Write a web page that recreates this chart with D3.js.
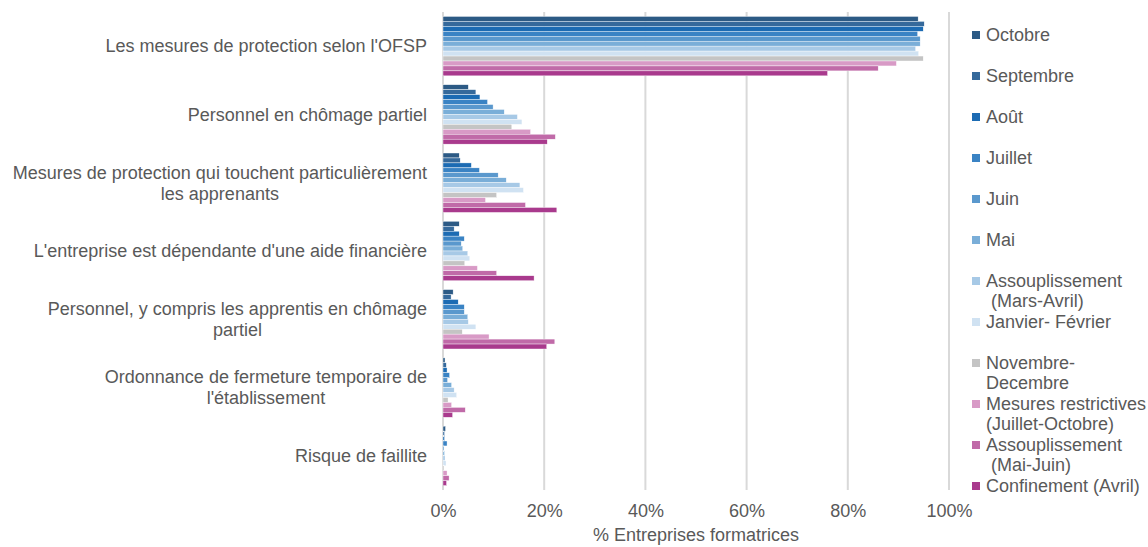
<!DOCTYPE html>
<html><head><meta charset="utf-8">
<script src="https://cdn.jsdelivr.net/npm/d3@7"></script>
<style>
body{margin:0;background:#fff;}
svg{font-family:"Liberation Sans",Arial,sans-serif;}
</style></head>
<body><svg id="chart" width="1148" height="547"></svg>
<script>
const categories = [
  "Les mesures de protection selon l'OFSP",
  "Personnel en chômage partiel",
  "Mesures de protection qui touchent particulièrement|les apprenants",
  "L'entreprise est dépendante d'une aide financière",
  "Personnel, y compris les apprentis en chômage|partiel",
  "Ordonnance de fermeture temporaire de|l'établissement",
  "Risque de faillite"
];
const seriesNames = ["Octobre","Septembre","Août","Juillet","Juin","Mai",
  "Assouplissement| (Mars-Avril)","Janvier- Février","Novembre-|Decembre",
  "Mesures restrictives|(Juillet-Octobre)","Assouplissement| (Mai-Juin)","Confinement (Avril)"];
const seriesColors = ["#2c5a85","#35699b","#1c6bb3","#3a83c4","#5a98cd","#7aaed8",
  "#a7c9e6","#d0e2f2","#c4c4c4","#d89ac6","#c06aa8","#a93a8d"];
// values per series (% of training companies), one per category
const octobre      = [93.9, 5.0, 3.2, 3.2, 2.0, 0.4, 0.5];
const septembre    = [95.1, 6.5, 3.4, 2.2, 1.6, 0.65, 0.3];
const aout         = [94.9, 7.3, 5.6, 3.2, 3.0, 0.8, 0.3];
const juillet      = [93.8, 8.8, 7.2, 4.2, 4.2, 1.3, 0.8];
const juin         = [94.3, 9.9, 10.9, 3.6, 4.2, 0.9, 0.2];
const mai          = [94.3, 12.1, 12.5, 3.9, 4.9, 1.7, 0.3];
const marsAvril    = [93.4, 14.7, 15.2, 4.9, 5.0, 2.2, 0.4];
const janvFev      = [94.0, 15.6, 15.9, 5.3, 6.5, 2.7, 0.6];
const novDec       = [94.9, 13.6, 10.6, 4.3, 3.8, 1.0, 0.2];
const mesuresRestr = [89.6, 17.3, 8.4, 6.8, 9.1, 1.7, 0.8];
const maiJuin      = [86.0, 22.2, 16.3, 10.6, 22.1, 4.4, 1.2];
const confinement  = [76.0, 20.6, 22.5, 18.0, 20.5, 1.9, 0.7];
const seriesValues = [octobre,septembre,aout,juillet,juin,mai,marsAvril,janvFev,novDec,mesuresRestr,maiJuin,confinement];
const xTicks = [0,20,40,60,80,100];
const xTitle = "% Entreprises formatrices";

const svg = d3.select("#chart");
const textColor = "#595959";
const fs = 18;
const x = d3.scaleLinear().domain([0,100]).range([443,949]);
const y = d3.scaleBand().domain(categories).range([12,490]).paddingInner(0.13).paddingOuter(0.065);
const yInner = d3.scaleBand().domain(d3.range(seriesNames.length)).range([0,y.bandwidth()]);

// gridlines
svg.append("g").selectAll("line").data(xTicks).join("line")
  .attr("x1",d=>x(d)).attr("x2",d=>x(d)).attr("y1",12).attr("y2",490)
  .attr("stroke","#d9d9d9").attr("stroke-width",2);

// bars
const g = svg.append("g");
seriesValues.forEach((vals,si)=>{
  g.append("g").selectAll("rect").data(vals).join("rect")
    .attr("x",x(0))
    .attr("y",(d,ci)=>y(categories[ci])+yInner(si))
    .attr("width",d=>x(d)-x(0))
    .attr("height",yInner.bandwidth())
    .attr("fill",seriesColors[si])
    .attr("stroke","#ffffff").attr("stroke-width",0.4);
});

// x axis tick labels
const xAxis = d3.axisBottom(x).tickValues(xTicks).tickFormat(d=>d+"%").tickSize(0).tickPadding(0);
const ax = svg.append("g").attr("transform","translate(0,504)").call(xAxis);
ax.select(".domain").remove();
ax.selectAll("text").attr("fill",textColor).attr("font-size",fs)
  .attr("font-family","'Liberation Sans',Arial,sans-serif");

svg.append("text").attr("x",(x(0)+x(100))/2).attr("y",541).attr("text-anchor","middle")
  .attr("fill",textColor).attr("font-size",fs).text(xTitle);

// category labels
categories.forEach(c=>{
  const lines = c.split("|");
  const cy = y(c)+y.bandwidth()/2;
  const lh = 21;
  const grp = svg.append("g");
  const texts = lines.map((l,i)=>grp.append("text")
    .attr("y",cy+(i-(lines.length-1)/2)*lh).attr("dy","0.35em")
    .attr("fill",textColor).attr("font-size",fs).text(l));
  const maxW = d3.max(texts,t=>t.node().getComputedTextLength());
  texts.forEach(t=>t.attr("x",427-maxW/2).attr("text-anchor","middle"));
});

// legend
const lg = svg.append("g");
seriesNames.forEach((n,i)=>{
  const ly = 35+41*i;
  lg.append("rect").attr("x",972).attr("y",ly-4).attr("width",8).attr("height",8).attr("fill",seriesColors[i]);
  n.split("|").forEach((l,j)=>{
    lg.append("text").attr("x",986).attr("y",ly+j*20).attr("dy","0.35em")
      .attr("fill",textColor).attr("font-size",fs).style("white-space","pre").text(l);
  });
});
</script></body></html>
